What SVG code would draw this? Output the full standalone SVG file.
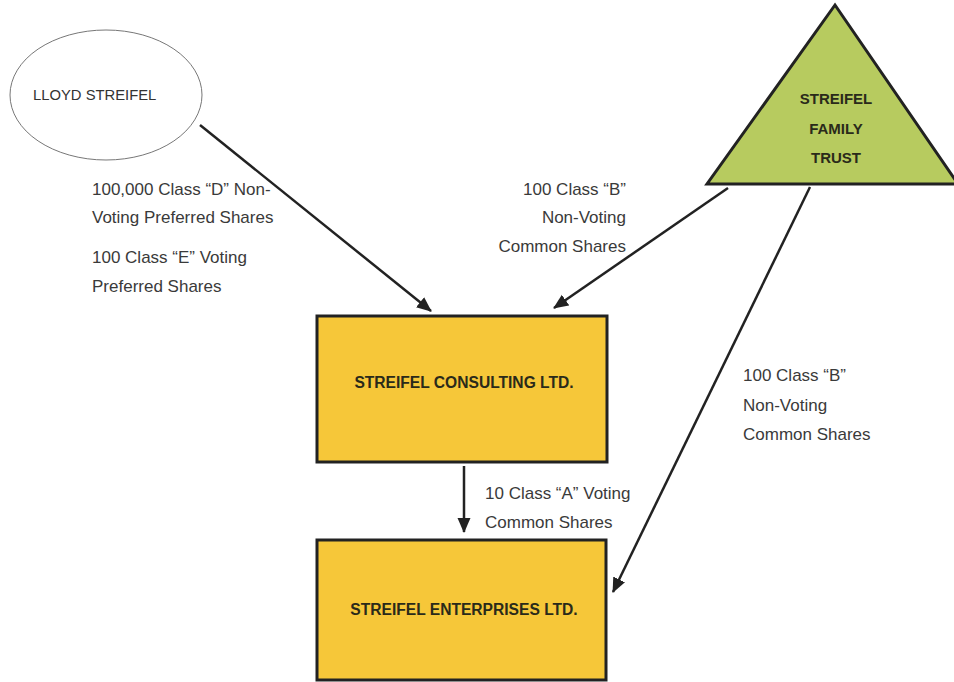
<svg xmlns="http://www.w3.org/2000/svg" width="954" height="682" viewBox="0 0 954 682">
<defs>
<style>
.lbl{font-family:"Liberation Sans",Arial,sans-serif;font-size:17px;fill:#3a3a3a}
.nm{font-family:"Liberation Sans",Arial,sans-serif;font-weight:bold;font-size:15.6px;fill:#2a2a1a}
.tr{font-size:15px}
.box{fill:#F6C739;stroke:#222;stroke-width:3}
.con{stroke:#222;stroke-width:2.5;fill:none;marker-end:url(#ah)}
</style>
<marker id="ah" markerUnits="userSpaceOnUse" markerWidth="16" markerHeight="14" refX="14" refY="6.5" orient="auto">
<path d="M0,0 L15,6.5 L0,13 Z" fill="#222"/>
</marker>
</defs>
<rect width="954" height="682" fill="#fff"/>
<g id="lloyd">
<ellipse cx="106" cy="95" rx="96" ry="65" fill="#fff" stroke="#777" stroke-width="1"/>
<text x="33" y="100" font-family="Liberation Sans,Arial,sans-serif" font-size="14.8" fill="#333">LLOYD STREIFEL</text>
</g>
<g id="trust">
<polygon points="835,5 707,184 958,184" fill="#B7CB5F" stroke="#222" stroke-width="3" stroke-linejoin="miter"/>
<text class="nm tr" x="836" y="104" text-anchor="middle">STREIFEL</text>
<text class="nm tr" x="836" y="134" text-anchor="middle">FAMILY</text>
<text class="nm tr" x="836" y="163" text-anchor="middle">TRUST</text>
</g>
<g id="consulting">
<rect class="box" x="317" y="316" width="290" height="146"/>
<text class="nm" x="464" y="388" text-anchor="middle">STREIFEL CONSULTING LTD.</text>
</g>
<g id="enterprises">
<rect class="box" x="317" y="540" width="289" height="140"/>
<text class="nm" x="464" y="615" text-anchor="middle">STREIFEL ENTERPRISES LTD.</text>
</g>
<g id="connectors">
<line class="con" x1="200" y1="125" x2="431" y2="311"/>
<line class="con" x1="728" y1="188" x2="554" y2="308"/>
<line class="con" x1="810" y1="187" x2="613" y2="592"/>
<line class="con" x1="464" y1="466" x2="464" y2="532"/>
</g>
<g id="labels">
<text class="lbl" x="92" y="195">100,000 Class “D” Non-</text>
<text class="lbl" x="92" y="223">Voting Preferred Shares</text>
<text class="lbl" x="92" y="263">100 Class “E” Voting</text>
<text class="lbl" x="92" y="292">Preferred Shares</text>
<text class="lbl" x="626" y="195" text-anchor="end">100 Class “B”</text>
<text class="lbl" x="626" y="223" text-anchor="end">Non-Voting</text>
<text class="lbl" x="626" y="252" text-anchor="end">Common Shares</text>
<text class="lbl" x="743" y="381">100 Class “B”</text>
<text class="lbl" x="743" y="411">Non-Voting</text>
<text class="lbl" x="743" y="440">Common Shares</text>
<text class="lbl" x="485" y="499">10 Class “A” Voting</text>
<text class="lbl" x="485" y="528">Common Shares</text>
</g>
</svg>
